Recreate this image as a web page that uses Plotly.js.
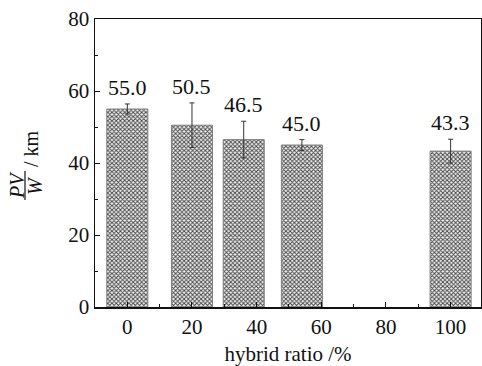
<!DOCTYPE html>
<html>
<head>
<meta charset="utf-8">
<script src="https://cdn.plot.ly/plotly-3.0.1.min.js"></script>
<style>html,body{margin:0;padding:0;background:#fff;overflow:hidden;}</style>
</head>
<body>
<div id="chart" style="width:482px;height:366px;"></div>
<script>
// Data
const barX = [0, 20, 36, 54, 100];          // hybrid ratio position of each bar (as drawn)
const values = [55.0, 50.5, 46.5, 45.0, 43.3];
const errors = [1.4, 6.2, 5.1, 1.5, 3.3];
const valueLabels = ['55.0', '50.5', '46.5', '45.0', '43.3'];
const xTicks = [0, 20, 40, 60, 80, 100];
const yTicks = [0, 20, 40, 60, 80];

const serif = 'Liberation Serif';

const trace = {
  type: 'bar',
  x: barX,
  y: values,
  width: 12.7,
  marker: {
    color: '#ffffff',
    line: {color: '#808080', width: 1},
    pattern: {shape: 'x', size: 3, solidity: 0.55, fgcolor: '#4a4a4a', bgcolor: '#f4f4f4'}
  },
  error_y: {type: 'data', array: errors, visible: true, color: '#333', thickness: 1, width: 2.5},
  hoverinfo: 'skip'
};

const L = 95, T = 19, PW = 386, PH = 288;
const px = v => (v - L) / PW;
const py = v => (T + PH - v) / PH;

const annotations = barX.map((x, i) => ({
  x: x, y: values[i] + errors[i], xref: 'x', yref: 'y',
  text: valueLabels[i], showarrow: false, yanchor: 'bottom', yshift: 2,
  font: {family: serif, size: 22, color: '#111'}
}));

annotations.push(
  {xref: 'paper', yref: 'paper', x: px(17), y: py(185), text: '<i>PV</i>', showarrow: false,
   textangle: -90, font: {family: serif, size: 20, color: '#111'}, xanchor: 'center', yanchor: 'middle'},
  {xref: 'paper', yref: 'paper', x: px(35), y: py(186), text: '<i>W</i>', showarrow: false,
   textangle: -90, font: {family: serif, size: 20, color: '#111'}, xanchor: 'center', yanchor: 'middle'},
  {xref: 'paper', yref: 'paper', x: px(31), y: py(149), text: '/ km', showarrow: false,
   textangle: -90, font: {family: serif, size: 20, color: '#111'}, xanchor: 'center', yanchor: 'middle'}
);

const layout = {
  width: 482, height: 366,
  margin: {l: L, r: 482 - L - PW, t: T, b: 366 - T - PH, pad: 0},
  paper_bgcolor: '#fff', plot_bgcolor: '#fff',
  showlegend: false,
  font: {family: serif, color: '#111'},
  xaxis: {
    range: [-10, 109.4], tickvals: xTicks, ticktext: xTicks.map(String),
    ticks: 'inside', ticklen: 5, tickwidth: 1, tickcolor: '#111',
    minor: {dtick: 10, tick0: 0, ticks: 'inside', ticklen: 3, tickcolor: '#111'},
    showline: true, linecolor: '#111', linewidth: 1.5, mirror: true,
    showgrid: false, zeroline: false,
    tickfont: {family: serif, size: 21, color: '#111'},
    title: {text: 'hybrid ratio /%', font: {family: serif, size: 21, color: '#111'}, standoff: 12}
  },
  yaxis: {
    range: [0, 80], tickvals: yTicks, ticktext: yTicks.map(String),
    ticks: 'inside', ticklen: 5, tickwidth: 1, tickcolor: '#111',
    minor: {dtick: 10, tick0: 0, ticks: 'inside', ticklen: 3, tickcolor: '#111'},
    showline: true, linecolor: '#111', linewidth: 1.5, mirror: true,
    showgrid: false, zeroline: false,
    tickfont: {family: serif, size: 21, color: '#111'}
  },
  shapes: [
    {type: 'line', xref: 'paper', yref: 'paper', x0: px(25), x1: px(25), y0: py(171), y1: py(200),
     line: {color: '#111', width: 1.2}}
  ],
  annotations: annotations
};

Plotly.newPlot('chart', [trace], layout, {staticPlot: true, displayModeBar: false});
</script>
</body>
</html>
